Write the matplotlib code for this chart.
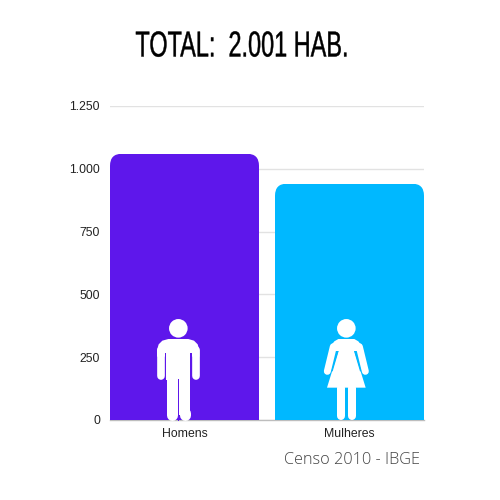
import matplotlib
matplotlib.use('Agg')
import matplotlib.pyplot as plt
from matplotlib.patches import FancyBboxPatch, Circle, Polygon
from matplotlib.patheffects import AbstractPathEffect
from matplotlib.transforms import Affine2D

# data
categories = ['Homens', 'Mulheres']
habitantes = [1060, 941]
bar_colors = ['#5e17eb', '#00b8ff']
yticks = [0, 250, 500, 750, 1000, 1250]
ytick_labels = ['0', '250', '500', '750', '1.000', '1.250']


class Squeeze(AbstractPathEffect):
    # no condensed font here, so narrow the glyphs around a display x
    def __init__(self, cx, sx, stroke):
        self.cx = cx
        self.sx = sx
        self.stroke = stroke

    def draw_path(self, renderer, gc, tpath, affine, rgbFace=None):
        squeeze = Affine2D().translate(-self.cx, 0).scale(self.sx, 1).translate(self.cx, 0)
        gc0 = renderer.new_gc()
        gc0.copy_properties(gc)
        gc0.set_linewidth(self.stroke)
        gc0.set_foreground('black')
        renderer.draw_path(gc0, tpath, affine + squeeze, rgbFace)
        gc0.restore()


fig = plt.figure(figsize=(5, 5), dpi=100, facecolor='white')
ax = fig.add_axes([110 / 500, 80 / 500, 314 / 500, 314 / 500])

bars = ax.bar(range(len(categories)), habitantes, width=149 / 165, color=bar_colors, zorder=3)
ax.set_xlim(-74.5 / 165, 1 + 74.5 / 165)
ax.set_ylim(0, 1250)
ax.set_yticks(yticks)
ax.set_yticklabels(ytick_labels)
ax.set_xticks(range(len(categories)))
ax.set_xticklabels(categories)
ax.tick_params(axis='both', length=0, labelsize=8.8, labelcolor='#222222')
ax.tick_params(axis='y', pad=7.2)
ax.tick_params(axis='x', pad=5.5)
for lab in ax.get_xticklabels() + ax.get_yticklabels():
    lab.set_family('Liberation Sans')
ax.grid(axis='y', color='#e2e2e2', lw=1, zorder=0)
ax.set_axisbelow(True)
for s in ['top', 'left', 'right']:
    ax.spines[s].set_visible(False)
ax.spines['bottom'].set_color('#bdbdbd')
ax.spines['bottom'].set_linewidth(1)
ax.spines['bottom'].set_zorder(2)

# rounded tops
radius = 12 / 165
aspect = 1250 / 314 * 165
for b in bars:
    round_box = FancyBboxPatch((b.get_x(), -200), b.get_width(), b.get_height() + 200,
                               boxstyle='round,pad=0,rounding_size=%f' % radius,
                               mutation_aspect=aspect, transform=ax.transData)
    b.set_clip_path(round_box)

# overlay in pixels for the text and icons
ov = fig.add_axes([0, 0, 1, 1], facecolor='none')
ov.set_xlim(0, 500)
ov.set_ylim(500, 0)
ov.axis('off')

title = ov.text(242, 47, 'TOTAL:  2.001 HAB.', family='Liberation Sans',
                fontsize=26, color='black', ha='center', va='center')
title.set_path_effects([Squeeze(242, 0.65, 0.3)])
ov.text(352, 460, 'Censo 2010 - IBGE', family='Open Sans', fontweight='light',
        fontsize=11.7, color='#444444', ha='center', va='center')


def p(cx, cy):
    # icon coordinates measured on the zoomed crop
    return 130 + cx / 3, 300 + cy / 3


def limb(a, b, w):
    (x0, y0), (x1, y1) = p(*a), p(*b)
    ov.plot([x0, x1], [y0, y1], color='white', lw=w / 3 * 0.72, solid_capstyle='round', zorder=2)


def block(pts, color='white', z=2):
    ov.add_patch(Polygon([p(*q) for q in pts], closed=True, fc=color, ec='none', zorder=z))


# man
ov.add_patch(Circle(p(145, 85), 9.3, fc='white', ec='none'))
block([(115, 117), (175, 117), (192, 122), (203, 133), (208, 150), (208, 170),
       (81, 170), (81, 150), (86, 133), (97, 122)])
limb((92.5, 150), (92.5, 227), 23)
limb((196.5, 150), (196.5, 227), 23)
block([(108, 150), (181, 150), (181, 240), (108, 240)])
block([(110, 238), (180, 238), (180, 344), (110, 344)])
limb((126.5, 340), (126.5, 344), 33)
limb((163.5, 340), (163.5, 344), 33)
block([(104, 160), (108, 160), (108, 240), (104, 240)], bar_colors[0], 3)
block([(181, 160), (185, 160), (185, 240), (181, 240)], bar_colors[0], 3)
block([(143, 238), (148, 238), (148, 362), (143, 362)], bar_colors[0], 3)

# woman
ov.add_patch(Circle(p(649, 85), 9.3, fc='white', ec='none'))
block([(625, 117), (673, 117), (685, 124), (695, 137), (700, 153),
       (598, 153), (603, 137), (613, 124)])
limb((610, 140), (592, 214), 21)
limb((688, 140), (706, 214), 21)
block([(626, 150), (672, 150), (707, 263), (591, 263)])
limb((632, 265), (632, 348), 24)
limb((667, 265), (667, 348), 24)
block([(622, 153), (626, 153), (608, 214), (604, 214)], bar_colors[1], 3)
block([(672, 153), (676, 153), (694, 214), (690, 214)], bar_colors[1], 3)

fig.savefig('out.png', dpi=100)
